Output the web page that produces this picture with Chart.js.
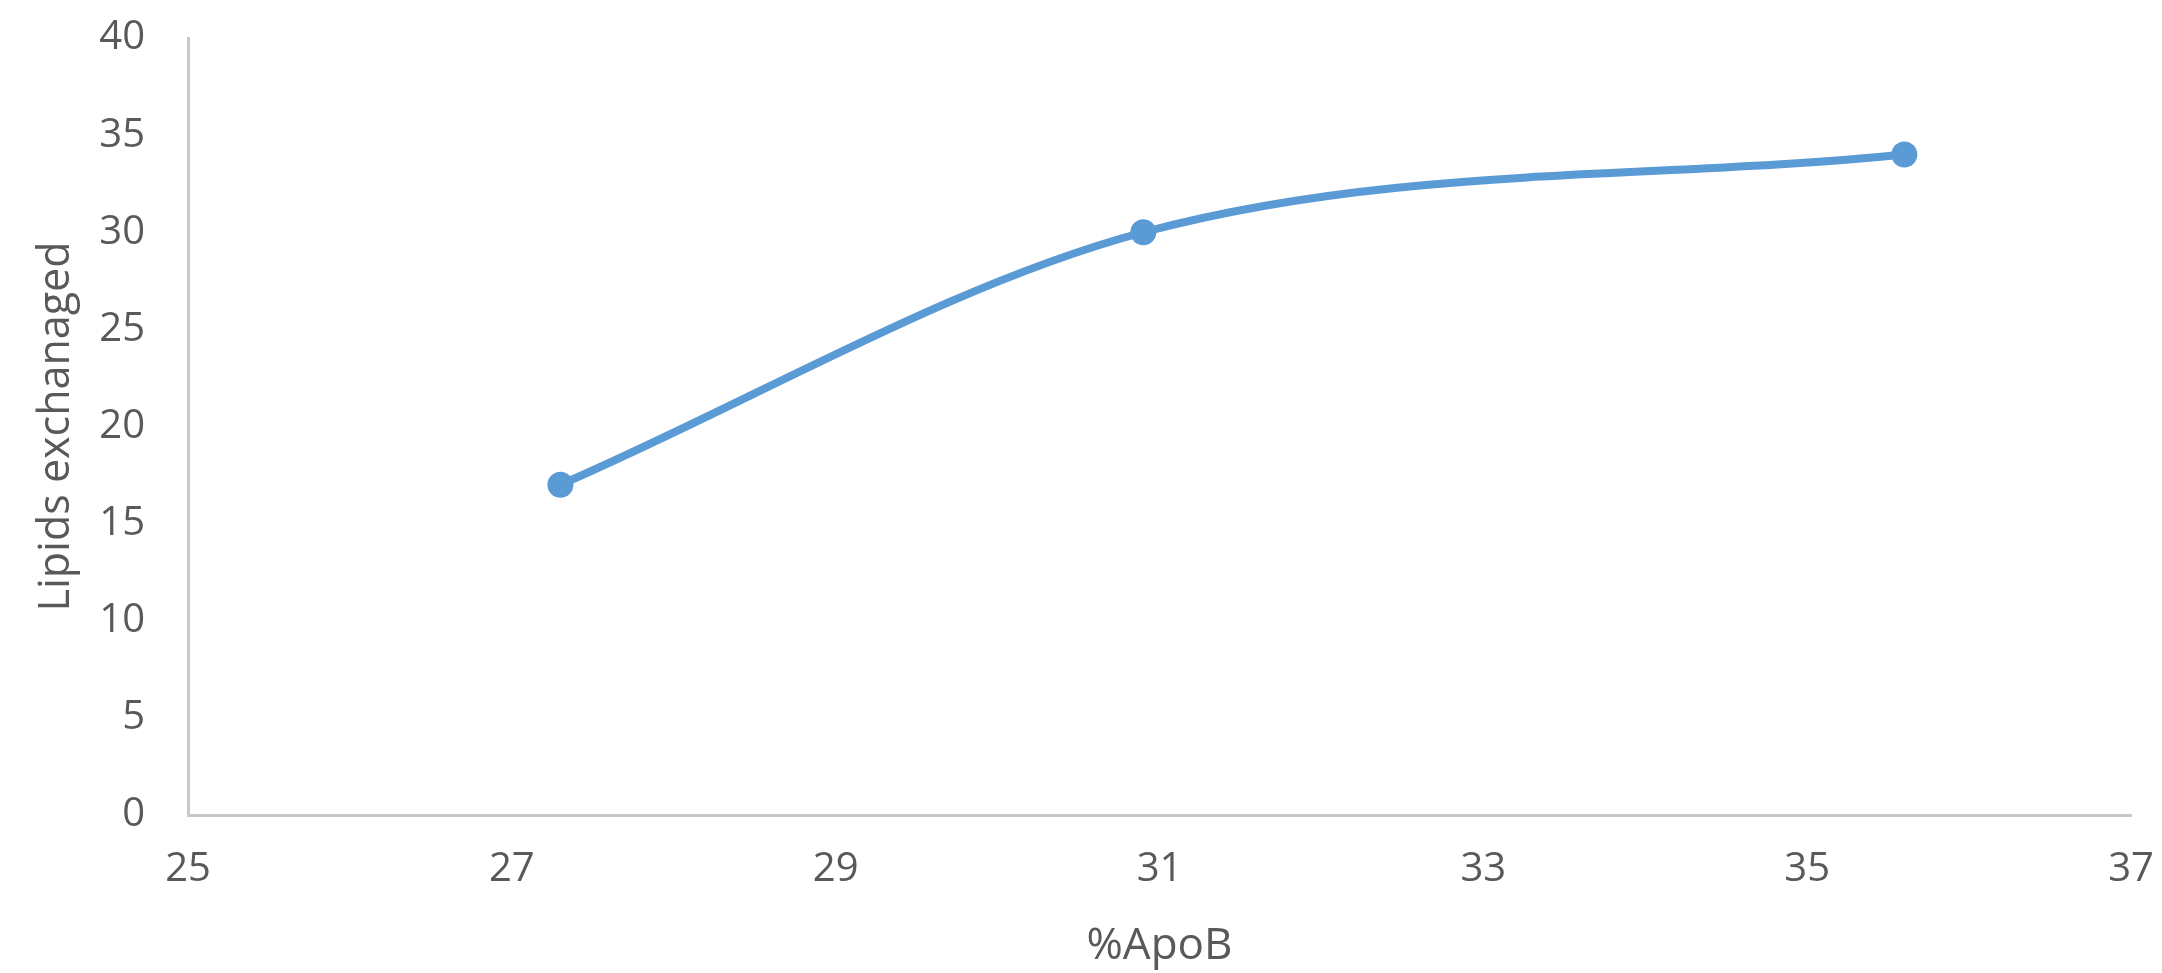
<!DOCTYPE html>
<html>
<head>
<meta charset="utf-8">
<script src="https://cdn.jsdelivr.net/npm/chart.js@4.4.1/dist/chart.umd.min.js"></script>
<style>
  html, body { margin: 0; padding: 0; background: #ffffff; }
  #wrap { width: 2162px; height: 973px; }
</style>
</head>
<body>
<div id="wrap"><canvas id="chartCanvas"></canvas></div>
<script>
// %ApoB vs lipids exchanged
const apoB = [27.3, 30.9, 35.6];
const lipidsExchanged = [17, 30, 34];
const xTicks = [25, 27, 29, 31, 33, 35, 37];
const yTicks = [0, 5, 10, 15, 20, 25, 30, 35, 40];

const lineColor = '#5b9bd5';
const textColor = '#595959';
const axisColor = '#c8c8c8';

const points = apoB.map((x, i) => ({ x: x, y: lipidsExchanged[i] }));

const ctx = document.getElementById('chartCanvas').getContext('2d');

new Chart(ctx, {
  type: 'line',
  data: {
    datasets: [{
      label: 'Lipids exchanaged',
      data: points,
      borderColor: lineColor,
      backgroundColor: lineColor,
      borderWidth: 8,
      tension: 0.4,
      cubicInterpolationMode: 'monotone',
      pointRadius: 13,
      pointBorderWidth: 0,
      pointBackgroundColor: lineColor
    }]
  },
  options: {
    responsive: true,
    maintainAspectRatio: false,
    animation: false,
    layout: {
      autoPadding: false,
      padding: { top: 38, right: 31, left: 0, bottom: 0 }
    },
    scales: {
      x: {
        type: 'linear',
        min: 25,
        max: 37,
        afterBuildTicks: (axis) => { axis.ticks = xTicks.map(v => ({ value: v })); },
        afterFit: (axis) => {
          axis.height = 158;
          // tick padding would otherwise be added to the edge padding
          axis.paddingLeft = 0;
          axis.paddingRight = 0;
        },
        ticks: {
          color: textColor,
          padding: 31,
          font: { family: 'Open Sans', size: 40 }
        },
        grid: { display: false, drawTicks: false },
        border: { color: axisColor, width: 3 },
        title: {
          display: true,
          text: '%ApoB',
          color: textColor,
          font: { family: 'Open Sans', size: 44 },
          padding: { top: 10, bottom: 0 }
        }
      },
      y: {
        min: 0,
        max: 40,
        afterBuildTicks: (axis) => { axis.ticks = yTicks.map(v => ({ value: v })); },
        afterFit: (axis) => {
          axis.width = 188;
          axis.paddingTop = 0;
          axis.paddingBottom = 0;
        },
        ticks: {
          color: textColor,
          padding: 43,
          font: { family: 'Open Sans', size: 40 }
        },
        grid: { display: false, drawTicks: false },
        border: { color: axisColor, width: 3 },
        title: {
          display: true,
          text: 'Lipids exchanaged',
          color: textColor,
          font: { family: 'Open Sans', size: 43 },
          padding: { top: 31, bottom: 0 }
        }
      }
    },
    plugins: {
      legend: { display: false },
      tooltip: { enabled: false }
    }
  }
});
</script>
</body>
</html>
